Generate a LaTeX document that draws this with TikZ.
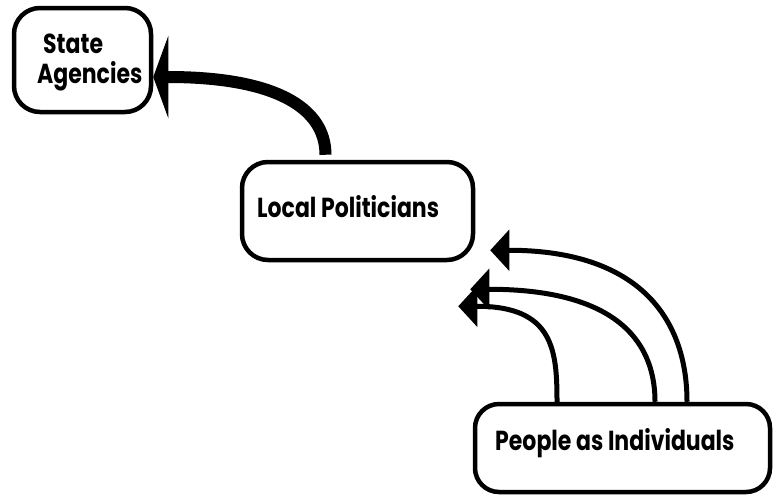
\documentclass[tikz,border=0pt]{standalone}
\usepackage{fontspec}
\setmainfont{Poppins}[FakeStretch=0.8]
\usetikzlibrary{arrows.meta}
\begin{document}
\begin{tikzpicture}[x=1pt,y=-1pt,
  box/.style={draw, line width=4.5pt, rounded corners=26pt, inner sep=0pt},
  lbl/.style={font=\bfseries\fontsize{27.5}{30}\selectfont, inner sep=0pt, anchor=base west},
  link/.style={line width=5pt,
    -{Triangle[length=19pt,width=41pt,line width=2pt,fill=black]}},
  heavylink/.style={line width=12pt,
    -{Triangle[length=15pt,width=82pt,line width=1pt,fill=black]}}]
  \useasboundingbox (0,0) rectangle (775,496);

  % boxes
  \node[box, minimum width=137pt, minimum height=104pt] (sa) at (82.5,60) {};
  \node[box, minimum width=231pt, minimum height=98pt] (lp) at (357.5,211) {};
  \node[box, minimum width=295pt, minimum height=88pt, rounded corners=24pt] (pi) at (622.5,448) {};

  % labels
  \node[lbl] (sat1) at (43,53) {State};
  \node[lbl] (sat2) at (37,83) {Agencies};
  \node[lbl] (lpt) at (257,217) {Local Politicians};
  \node[lbl] (pit) at (495,450) {People as Individuals};

  % influence from local politicians up to the state agencies
  \draw[heavylink] ([shift={(-32,-5)}]lp.north)
      .. controls +(0,-48) and +(120,0) .. ([shift={(0,17)}]sa.east);

  % influence from individuals up to local politicians
  \draw[link] ([shift={(-65.5,0)}]pi.north)
      .. controls +(0,-52) and +(95,0) .. ([shift={(-17,44)}]lp.south east);
  \draw[link] ([shift={(32.5,0)}]pi.north)
      .. controls +(0,-65) and +(140,0) .. ([shift={(-5,27)}]lp.south east);
  \draw[link] ([shift={(64.5,0)}]pi.north)
      .. controls +(0,-82) and +(150,0) .. ([shift={(15,-12)}]lp.south east);
\end{tikzpicture}
\end{document}
